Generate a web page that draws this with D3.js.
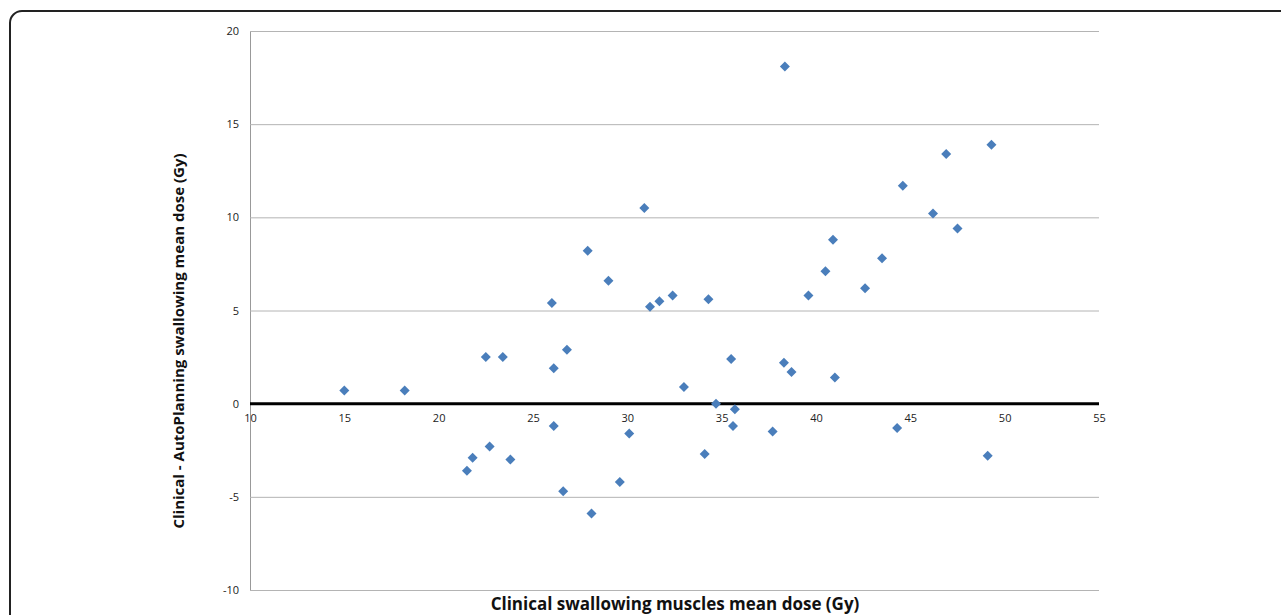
<!DOCTYPE html>
<html>
<head>
<meta charset="utf-8">
<script src="https://cdn.jsdelivr.net/npm/d3@7"></script>
<style>
  body { margin: 0; background: #fff; }
  text { font-family: 'Open Sans', 'Liberation Sans', sans-serif; }
</style>
</head>
<body>
<script>
// clinical mean dose (Gy) vs difference clinical - autoplanning (Gy)
let clinical_dose = [15.0, 18.2, 21.5, 21.8, 22.5, 22.7, 23.4, 23.8, 26.0, 26.1, 26.1, 26.6, 26.8,
    27.9, 28.1, 29.0, 29.6, 30.1, 30.9, 31.2, 31.7, 32.4, 33.0, 34.1, 34.3, 34.7, 35.5, 35.6,
    35.7, 37.7, 38.35, 38.3, 38.7, 39.6, 40.5, 40.9, 41.0, 42.6, 43.5, 44.3, 44.6, 46.2, 46.9,
    47.5, 49.1, 49.3]
let dose_diff = [0.7, 0.7, -3.6, -2.9, 2.5, -2.3, 2.5, -3.0, 5.4, 1.9, -1.2, -4.7, 2.9,
    8.2, -5.9, 6.6, -4.2, -1.6, 10.5, 5.2, 5.5, 5.8, 0.9, -2.7, 5.6, 0.0, 2.4, -1.2,
    -0.3, -1.5, 18.1, 2.2, 1.7, 5.8, 7.1, 8.8, 1.4, 6.2, 7.8, -1.3, 11.7, 10.2, 13.4,
    9.4, -2.8, 13.9]
let x_ticks = [10, 15, 20, 25, 30, 35, 40, 45, 50, 55]
let y_ticks = [-10, -5, 0, 5, 10, 15, 20]

let points = clinical_dose.map((d, i) => ({x: d, y: dose_diff[i]}))

let W = 1281, H = 615
let margin = {top: 31, right: 182, bottom: 25, left: 250}
let width = W - margin.left - margin.right
let height = H - margin.top - margin.bottom

let svg = d3.select('body').append('svg')
    .attr('width', W)
    .attr('height', H)

// outer frame, runs off the picture on the right and bottom
svg.append('rect')
    .attr('x', 10).attr('y', 11)
    .attr('width', 1300).attr('height', 700)
    .attr('rx', 12).attr('ry', 12)
    .style('fill', 'none')
    .style('stroke', '#222')
    .style('stroke-width', 2)

let xScale = d3.scaleLinear().domain([10, 55]).range([0, width])
let yScale = d3.scaleLinear().domain([-10, 20]).range([height, 0])

let plain = d => String(d)   // keep ascii hyphen for negatives

let g = svg.append('g')
    .attr('transform', 'translate(' + margin.left + ',' + margin.top + ')')

// gridlines + y ticks
let yAxis = d3.axisLeft(yScale).tickValues(y_ticks).tickFormat(plain).tickSize(-width).tickPadding(11)
let yg = g.append('g').attr('class', 'y axis').call(yAxis)
yg.select('.domain').attr('stroke', '#999')
yg.selectAll('.tick line').attr('stroke', '#b4b4b4')
yg.selectAll('.tick text').style('font-size', '11px').attr('fill', '#222')
yg.selectAll('.tick').filter(d => d === 0).select('line').remove()

// x ticks below zero line
let xAxis = d3.axisBottom(xScale).tickValues(x_ticks).tickFormat(plain).tickSize(0).tickPadding(11)
let xg = g.append('g').attr('class', 'x axis')
    .attr('transform', 'translate(0,' + yScale(0) + ')')
    .call(xAxis)
xg.select('.domain').remove()
xg.selectAll('.tick text').style('font-size', '11px').attr('fill', '#222')

// zero line
g.append('line')
    .attr('x1', 0).attr('x2', width)
    .attr('y1', yScale(0)).attr('y2', yScale(0))
    .style('stroke', '#000')
    .style('stroke-width', 3)

// markers
g.selectAll('.pt')
    .data(points)
    .enter().append('path')
    .attr('class', 'pt')
    .attr('d', d3.symbol().type(d3.symbolSquare).size(50))
    .attr('transform', d => 'translate(' + xScale(d.x) + ',' + yScale(d.y) + ') rotate(45)')
    .style('fill', '#4a7ebb')

// axis titles
svg.append('text')
    .attr('text-anchor', 'middle')
    .attr('x', 675)
    .attr('y', 610)
    .style('font-size', '17px')
    .style('font-weight', 'bold')
    .attr('fill', '#111')
    .text('Clinical swallowing muscles mean dose (Gy)')

svg.append('text')
    .attr('text-anchor', 'middle')
    .attr('transform', 'translate(184,' + 341 + ') rotate(-90)')
    .style('font-size', '15px')
    .style('font-weight', 'bold')
    .attr('fill', '#111')
    .text('Clinical - AutoPlanning swallowing mean dose (Gy)')
</script>
</body>
</html>
